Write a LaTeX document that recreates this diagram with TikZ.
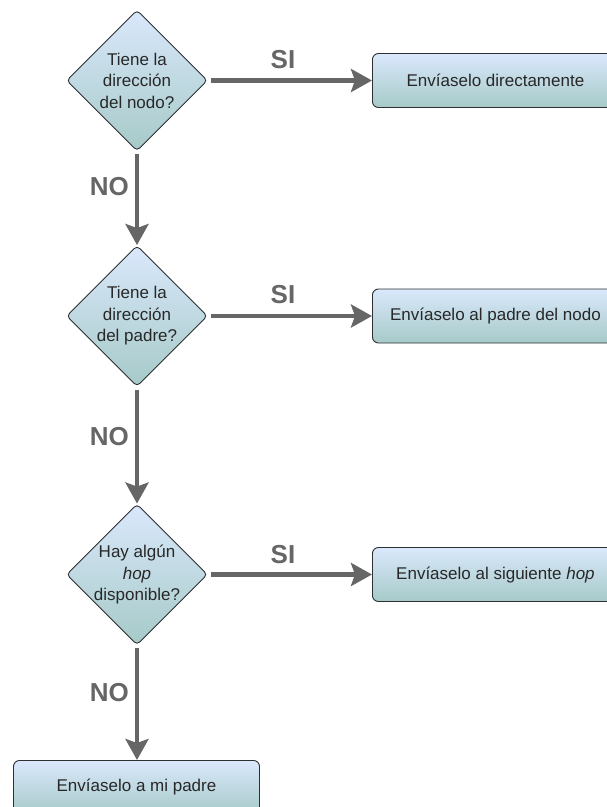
\documentclass[tikz,border=0pt]{standalone}
\usepackage{fontspec}
\setmainfont{Liberation Sans}
\usetikzlibrary{shapes.geometric,arrows.meta}

\definecolor{shadetop}{RGB}{218,232,252}
\definecolor{shadebot}{RGB}{166,202,200}
\definecolor{edgegray}{RGB}{102,102,102}
\definecolor{inkdark}{RGB}{40,40,40}
\definecolor{rimdark}{RGB}{45,47,50}

\tikzset{
  decisiontext/.style={align=center, text=inkdark, inner sep=0pt,
    font=\fontsize{17}{21.5}\selectfont},
  decision/.style={diamond, draw=rimdark, line width=0.9pt, rounded corners=4pt,
    top color=shadetop, bottom color=shadebot, minimum width=141pt, minimum height=141pt,
    inner sep=0pt, label={[decisiontext]center:#1}},
  action/.style={rectangle, draw=rimdark, line width=0.9pt, rounded corners=6pt,
    top color=shadetop, bottom color=shadebot, minimum width=246pt, minimum height=54pt,
    inner sep=0pt, align=center, text=inkdark, font=\fontsize{17}{20}\selectfont},
  flow/.style={draw=edgegray, line width=4.5pt,
    -{Stealth[length=21pt,width=23pt,inset=4pt]}, shorten <=3pt},
  answer/.style={text=edgegray, font=\bfseries\fontsize{26}{30}\selectfont, inner sep=0pt},
}

\begin{document}
\begin{tikzpicture}[x=1pt,y=-1pt]
  \useasboundingbox (0,0) rectangle (607,807);
  \clip (0,0) rectangle (607,807);

  % decisions
  \node[decision={Tiene la\\dirección\\del nodo?}]      (q1) at (137,80.5) {};
  \node[decision={Tiene la\\dirección\\del padre?}]     (q2) at (137,316)  {};
  \node[decision={Hay algún\\\textit{hop}\\disponible?}] (q3) at (137,574.5) {};

  % actions
  \node[action, anchor=west]  (a1) at (372,80.5)  {Envíaselo directamente};
  \node[action, anchor=west]  (a2) at (372,316)   {Envíaselo al padre del nodo};
  \node[action, anchor=west]  (a3) at (372,574.5) {Envíaselo al siguiente \textit{hop}};
  \node[action, anchor=north] (a4) at (136.5,760) {Envíaselo a mi padre};

  % connectors
  \draw[flow] (q1.east) -- (a1.west);
  \draw[flow] (q2.east) -- (a2.west);
  \draw[flow] (q3.east) -- (a3.west);
  \draw[flow] (q1.south) -- (q2.north);
  \draw[flow] (q2.south) -- (q3.north);
  \draw[flow] (q3.south) -- (q3.south |- a4.north);

  % answer labels
  \node[answer] (s1) at (283,60)    {SI};
  \node[answer] (s2) at (283,295)   {SI};
  \node[answer] (s3) at (283,554.5) {SI};
  \node[answer, anchor=east] (n1) at (129,187) {NO};
  \node[answer, anchor=east] (n2) at (129,437) {NO};
  \node[answer, anchor=east] (n3) at (129,693) {NO};
\end{tikzpicture}
\end{document}
